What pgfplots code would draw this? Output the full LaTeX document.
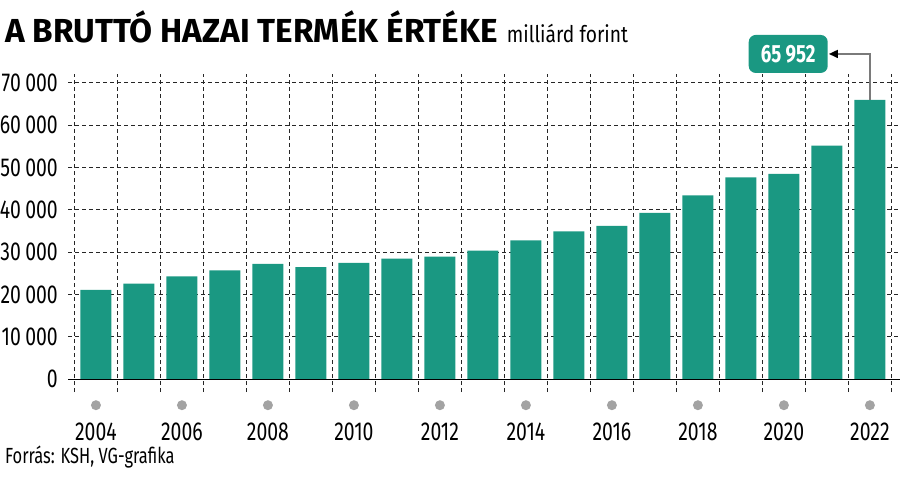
\documentclass[border=0pt]{standalone}
\usepackage{pgfplots}
\pgfplotsset{compat=1.18}
\usepackage{fontspec}
\setmainfont{Fira Sans}[FakeStretch=0.75]
\newfontfamily\titlefont{Fira Sans}[FakeStretch=1.0]
\newfontfamily\subfont{Fira Sans}[FakeStretch=0.84]
\usetikzlibrary{arrows.meta}
\definecolor{bar}{HTML}{1A9882}
\definecolor{dotgray}{HTML}{A3A3A3}
\definecolor{arrowgray}{HTML}{7A7A7A}
\newcommand\gdot{\tikz\fill[dotgray] (0,0) circle (5bp);}

\begin{document}
\begin{tikzpicture}
\useasboundingbox (-68bp,-98bp) rectangle (832bp,392bp);
\begin{axis}[
    at={(0,0)}, anchor=south west,
    scale only axis, width=832bp, height=317.8bp,
    xmin=-0.65, xmax=18.7, ymin=-3000, ymax=72000,
    axis line style={draw=none},
    major tick length=0pt, minor tick length=0pt,
    scaled y ticks=false,
    ytick={0,10000,...,70000},
    yticklabels={0,10\,000,20\,000,30\,000,40\,000,50\,000,60\,000,70\,000},
    yticklabel style={anchor=east, inner sep=0pt, xshift=-10bp},
    xtick={0,2,...,18},
    xticklabels={2004,2006,2008,2010,2012,2014,2016,2018,2020,2022},
    xticklabel style={anchor=north, inner sep=0pt},
    xticklabel shift=31bp,
    minor xtick={-0.5,0.5,...,18.5},
    xminorgrids=true, xmajorgrids=false, ymajorgrids=true,
    major grid style={black!85, line width=1bp, dash pattern=on 4bp off 3bp},
    minor grid style={black!85, line width=1bp, dash pattern=on 4bp off 3bp},
    extra x ticks={0,2,...,18},
    extra x tick labels={\gdot,\gdot,\gdot,\gdot,\gdot,\gdot,\gdot,\gdot,\gdot,\gdot},
    extra x tick style={grid=none, xticklabel shift=8bp},
    ticklabel style={font=\fontsize{26}{30}\selectfont},
    clip=false,
]
\addplot[ybar, bar width=0.72, fill=bar, draw=none] coordinates {
    (0,21080) (1,22560) (2,24310) (3,25720) (4,27210) (5,26500)
    (6,27450) (7,28470) (8,28940) (9,30350) (10,32800) (11,34930)
    (12,36180) (13,39250) (14,43420) (15,47670) (16,48450) (17,55130)
    (18,65952)
};
\draw[black, line width=1.3bp] (axis cs:-0.65,0) -- (axis cs:18.7,0);
\node[fill=bar, text=white, rounded corners=7bp, minimum width=79bp,
      minimum height=38bp, inner sep=0pt,
      font=\bfseries\fontsize{25}{28}\selectfont] (lbl) at (axis cs:16.1,76780) {65\,952};
\draw[arrowgray, line width=1.6bp,
      -{Triangle[length=9bp,width=8bp,color=black]}, shorten >=1bp]
      (axis cs:18,65952) |- (lbl.east);
\end{axis}
\node[anchor=base west, inner sep=0pt] at (-63bp,349bp)
  {{\titlefont\bfseries\fontsize{33.4}{38}\selectfont A BRUTTÓ HAZAI TERMÉK ÉRTÉKE}\hspace{9bp}{\subfont\fontsize{23}{27}\selectfont milliárd forint}};
\node[anchor=base west, inner sep=0pt] at (-63bp,-71bp)
  {\fontsize{22}{26}\selectfont Forrás: KSH, VG-grafika};
\end{tikzpicture}
\end{document}
